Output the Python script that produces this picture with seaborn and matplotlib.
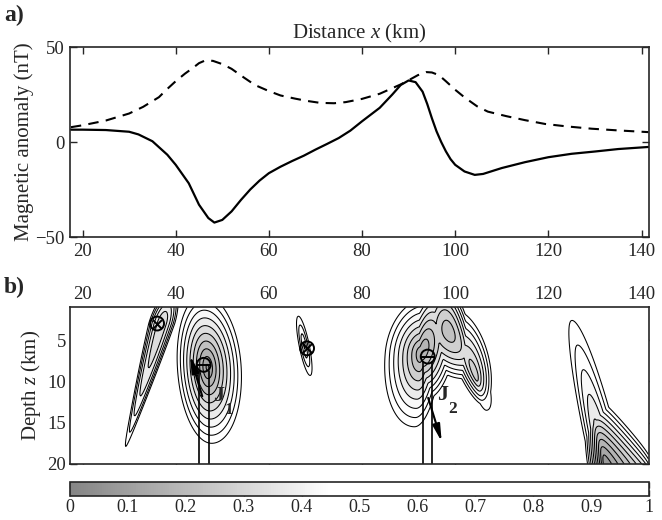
import numpy as np
import pandas as pd
import matplotlib
matplotlib.use("Agg")
import matplotlib.pyplot as plt
import seaborn as sns
from matplotlib.colors import LinearSegmentedColormap, Normalize
from matplotlib.cm import ScalarMappable

# ---------------- a) magnetic anomaly profile ----------------
solid_x = [17.5, 20, 25, 30, 32, 35, 38.2, 40, 42.8, 45, 47, 48.3, 50, 52, 54,
           56, 58, 60, 62.5, 65, 67.5, 70, 72.5, 75, 77.5, 80, 83.8, 86.5, 88.3,
           90, 91.5, 93, 94, 95, 96, 97, 98, 99, 100, 102, 104.2, 106, 110,
           115, 120, 125, 130, 135, 141.5]
solid_nT = [6.5, 6.5, 6.3, 5.4, 4.0, 0.4, -6.7, -12, -21.7, -33, -40, -42.4,
            -41, -36.5, -30.5, -25, -20.3, -16.4, -13, -10, -7.2, -4, -1, 2.1,
            6, 10.9, 18, 25, 30, 32.4, 31.5, 26.5, 20, 12.5, 5.6, 0, -4.9, -9,
            -12, -15.5, -17.3, -16.8, -13.7, -10.6, -8, -6.2, -5, -3.7, -2.6]

dashed_x = [17.5, 20, 25, 30, 33, 36.4, 38, 40, 42, 43.7, 45, 46.4, 48, 50,
            52, 54.6, 57, 60, 62.5, 65.5, 68, 71, 74, 76.5, 80, 83.8, 86,
            88.3, 90, 92, 93.8, 95, 96.5, 98, 100, 102, 104.7, 107, 111,
            115, 119.3, 124, 129.3, 135, 141.5]
dashed_nT = [7.8, 8.8, 11.3, 15, 18.5, 23.6, 27.5, 32, 36, 39, 41.5, 43, 42.7,
             41, 38.5, 34, 30, 26.8, 24.5, 22.9, 21.7, 20.6, 20.4, 21, 22.7,
             25.4, 27.8, 30.3, 32.5, 35.2, 36.8, 36.6, 35.2, 32, 27.5, 23.5,
             18.8, 16, 13.6, 11.5, 9.5, 8.2, 7, 6.1, 5.2]

# ---------------- b) normalised source function ----------------
# Each lobe is a low of the function: centre (x, z), lateral drift of the
# centre with depth, narrowing of the lobe with depth (per km), left/right and
# upper/lower radii, depth of the minimum and profile exponent
# (1 = cone, larger = flatter floor with steeper walls). Lobes of one anomaly
# add up; separate anomalies are merged by taking the lower value.
lobe_anomaly = [0, 1, 2, 3, 3, 3, 4, 4]
lobe_x0 = [37.0, 46.8, 67.6, 92.6, 100.3, 104.5, 132.4, 141.0]
lobe_z0 = [3.0, 8.3, 5.7, 6.6, 3.8, 9.5, 20.5, 20.5]
lobe_tilt = [-0.52, 0.1, 0.35, -0.15, 0.0, 0.55, 0.41, 0.0]
lobe_taper = [0.04, 0.0, 0.0, 0.0, 0.0, 0.0, 0.0, 0.0]
lobe_sx_left = [4.8, 12.6, 4.0, 16.2, 8.0, 6.0, 8.0, 14.0]
lobe_sx_right = [4.8, 14.2, 4.0, 9.4, 11.0, 9.5, 9.8, 14.0]
lobe_sz_up = [7.0, 17.2, 13.1, 13.9, 14.0, 12.0, 44.7, 9.0]
lobe_sz_down = [25.6, 18.0, 13.1, 18.9, 10.0, 16.0, 9.0, 9.0]
lobe_depth = [0.68, 0.92, 0.62, 0.85, 0.26, 0.60, 0.75, 0.55]
lobe_shape = [2.0, 1.0, 1.0, 1.0, 2.0, 1.0, 1.0, 1.0]

# source symbols (x, z)
cross_x = [36.0, 68.2]
cross_z = [3.0, 6.0]
minus_x = [46.0, 94.1]
minus_z = [8.0, 7.0]

# vertical pipes below the minus symbols
pipe_left = [45.1, 93.1]
pipe_right = [47.2, 95.1]
pipe_top = [8.7, 7.6]

# current arrows J1, J2: tail and head
arrow_tail_x = [45.7, 94.2]
arrow_tail_z = [11.8, 12.0]
arrow_head_x = [43.1, 97.1]
arrow_head_z = [6.9, 17.3]
j_label_x = [49.3, 97.3]
j_label_z = [11.8, 11.6]
j_index = ["1", "2"]

colorbar_ticks = [0, 0.1, 0.2, 0.3, 0.4, 0.5, 0.6, 0.7, 0.8, 0.9, 1]

# ---------------- style ----------------
sns.set_style("ticks")
plt.rcParams["font.family"] = ["Liberation Serif", "DejaVu Serif"]
plt.rcParams["mathtext.fontset"] = "custom"
plt.rcParams["mathtext.rm"] = "Liberation Serif"
plt.rcParams["mathtext.it"] = "Liberation Serif:italic"
plt.rcParams["axes.linewidth"] = 1.2
plt.rcParams["xtick.direction"] = "in"
plt.rcParams["ytick.direction"] = "in"

TICK_FS = 13.5
LABEL_FS = 15

fig = plt.figure(figsize=(6.62, 5.2), dpi=100)
ax_a = fig.add_axes([0.1057, 0.5442, 0.8746, 0.3654])
ax_b = fig.add_axes([0.1057, 0.1077, 0.8746, 0.3019])
cax = fig.add_axes([0.1057, 0.0462, 0.8746, 0.0269])

XLIM = (17.3, 141.6)

# ---- panel a ----
sns.lineplot(x=solid_x, y=solid_nT, ax=ax_a, color="black", lw=1.6, sort=False)
sns.lineplot(x=dashed_x, y=dashed_nT, ax=ax_a, color="black", lw=1.5,
             sort=False, dashes=False, linestyle=(0, (5, 3.5)))
ax_a.set_xlim(*XLIM)
ax_a.set_ylim(-50, 50)
ax_a.set_xticks(range(20, 141, 20))
ax_a.set_yticks([-50, 0, 50])
ax_a.tick_params(top=True, right=True, length=5, width=1.0,
                 labelsize=TICK_FS, pad=4)
ax_a.set_yticklabels(["\u221250", "0", "50"])
ax_a.set_ylabel("Magnetic anomaly (nT)", fontsize=LABEL_FS, labelpad=1)
ax_a.set_title("Distance $x$ (km)", fontsize=LABEL_FS, pad=6)

# ---- panel b ----
gx = np.arange(XLIM[0], XLIM[1] + 0.01, 0.2)
gz = np.arange(1.0, 20.01, 0.1)
X, Z = np.meshgrid(gx, gz)
lows = {}
for g, x0, z0, t, k, sxl, sxr, szu, szd, a, p in zip(
        lobe_anomaly, lobe_x0, lobe_z0, lobe_tilt, lobe_taper, lobe_sx_left,
        lobe_sx_right, lobe_sz_up, lobe_sz_down, lobe_depth, lobe_shape):
    xc = x0 + t * (Z - z0)
    dx = X - xc
    dz = Z - z0
    narrow = np.clip(1.0 - k * np.clip(dz, 0, None), 0.02, 1.0)
    sx = np.where(dx < 0, sxl, sxr) * narrow
    sz = np.where(dz < 0, szu, szd)
    d = np.sqrt((dx / sx) ** 2 + (dz / sz) ** 2)
    lows[g] = lows.get(g, 0.0) + a * np.clip(1.0 - d ** p, 0, None)
field = np.clip(1.0 - np.max(np.stack(list(lows.values())), axis=0), 0, 1)

grey = LinearSegmentedColormap.from_list(
    "greywhite", [(0.0, (0.52, 0.52, 0.52)), (0.45, (1, 1, 1)), (1.0, (1, 1, 1))])
fill_levels = np.arange(0, 1.0001, 0.05)
line_levels = np.arange(0.10, 0.5501, 0.05)
ax_b.contourf(X, Z, field, levels=fill_levels, cmap=grey, vmin=0, vmax=1)
ax_b.contour(X, Z, field, levels=line_levels, colors="black", linewidths=0.75)

# pipes
for xl, xr, zt in zip(pipe_left, pipe_right, pipe_top):
    ax_b.plot([xl, xl], [zt, 20], color="black", lw=1.2)
    ax_b.plot([xr, xr], [zt, 20], color="black", lw=1.2)

# symbols
sns.scatterplot(x=cross_x, y=cross_z, ax=ax_b, s=100, facecolor="none",
                edgecolor="black", linewidth=1.4, zorder=5)
sns.scatterplot(x=cross_x, y=cross_z, ax=ax_b, marker="x", s=40,
                color="black", linewidth=1.4, zorder=6)
sns.scatterplot(x=minus_x, y=minus_z, ax=ax_b, s=100, facecolor="none",
                edgecolor="black", linewidth=1.4, zorder=5)
sns.scatterplot(x=minus_x, y=minus_z, ax=ax_b, marker="_", s=100,
                color="black", linewidth=1.4, zorder=6)

# arrows and labels
for tx, tz, hx, hz, lx, lz, idx in zip(arrow_tail_x, arrow_tail_z,
                                       arrow_head_x, arrow_head_z,
                                       j_label_x, j_label_z, j_index):
    ax_b.annotate("", xy=(hx, hz), xytext=(tx, tz),
                  arrowprops=dict(arrowstyle="-|>,head_length=1.0,head_width=0.22",
                                  color="black", lw=1.5,
                                  shrinkA=0, shrinkB=0), zorder=7)
    ax_b.text(lx, lz, "J", fontsize=16, fontweight="bold", ha="center",
              va="center", zorder=8)
    ax_b.text(lx + 2.2, lz + 1.7, idx, fontsize=12.5, fontweight="bold",
              ha="center", va="center", zorder=8)

ax_b.set_xlim(*XLIM)
ax_b.set_ylim(20, 1)
ax_b.set_xticks(range(20, 141, 20))
ax_b.set_yticks([5, 10, 15, 20])
ax_b.tick_params(top=True, right=True, bottom=True, labeltop=True,
                 labelbottom=False, length=5, width=1.0, labelsize=TICK_FS, pad=3)
ax_b.set_ylabel("Depth $z$ (km)", fontsize=LABEL_FS, labelpad=3)
ax_b.set_xlabel("")

# colour bar
sm = ScalarMappable(norm=Normalize(0, 1), cmap=grey)
cb = fig.colorbar(sm, cax=cax, orientation="horizontal")
cb.set_ticks(colorbar_ticks)
cb.set_ticklabels([f"{t:g}" for t in colorbar_ticks])
cb.outline.set_linewidth(1.2)
cax.tick_params(top=True, bottom=True, direction="in", length=4, width=1.0,
                labelsize=13, pad=2)

fig.text(0.006, 0.99, "a)", fontsize=17, fontweight="bold", va="top")
fig.text(0.006, 0.468, "b)", fontsize=17, fontweight="bold", va="top")

fig.savefig("out.png", dpi=100)
